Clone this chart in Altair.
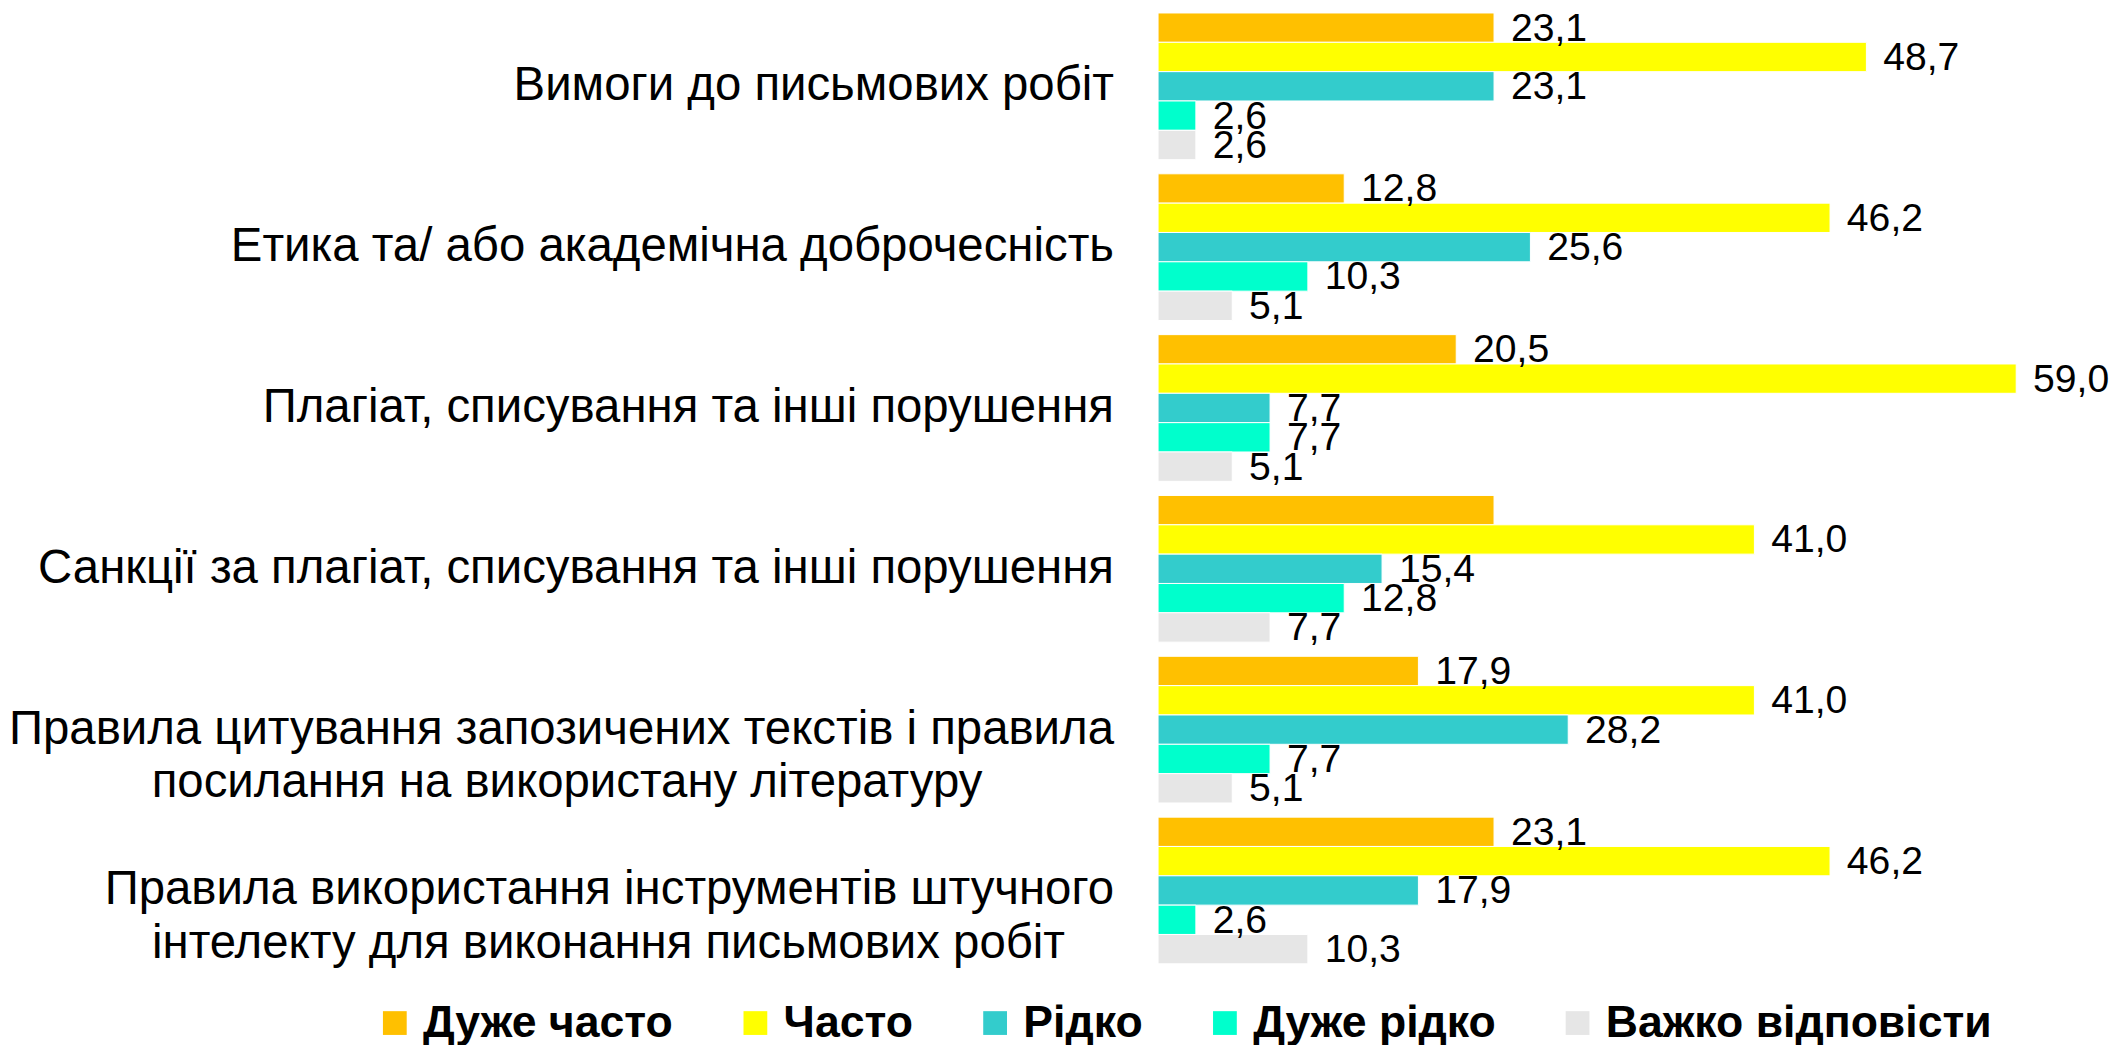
import altair as alt
import pandas as pd

FS = "\u2007"   # figure space, pads the shorter second line so it sits centred
NB = "\u00a0"   # no-break space
TS = "\u2009"   # thin space
END = "\u200b"  # zero-width mark keeps the padding from being trimmed

categories = [
    "Вимоги до письмових робіт",
    "Етика та/ або академічна доброчесність",
    "Плагіат, списування та інші порушення",
    "Санкції за плагіат, списування та інші порушення",
    "Правила цитування запозичених текстів і правила\nпосилання на використану літературу" + FS * 5 + END,
    "Правила використання інструментів штучного\nінтелекту для виконання письмових робіт" + FS + NB + TS + END,
]
series = ["Дуже часто", "Часто", "Рідко", "Дуже рідко", "Важко відповісти"]
colors = ["#FFC000", "#FFFF00", "#33CCCC", "#00FFCC", "#E6E6E6"]

very_often = [23.1, 12.8, 20.5, 23.1, 17.9, 23.1]
often = [48.7, 46.2, 59.0, 41.0, 41.0, 46.2]
rarely = [23.1, 25.6, 7.7, 15.4, 28.2, 17.9]
very_rarely = [2.6, 10.3, 7.7, 12.8, 7.7, 2.6]
hard_to_say = [2.6, 5.1, 5.1, 7.7, 5.1, 10.3]
# the reference shows no value label on this bar (category index, series index)
hidden_label = [(3, 0)]

values = [very_often, often, rarely, very_rarely, hard_to_say]
rows = []
for si, s in enumerate(series):
    for ci, c in enumerate(categories):
        rows.append({
            "category": c,
            "series": s,
            "value": values[si][ci],
            "show": (ci, si) not in hidden_label,
        })
df = pd.DataFrame(rows)

FONT = "Liberation Sans"

y_enc = alt.Y(
    "category:N",
    sort=categories,
    scale=alt.Scale(paddingInner=0.088, paddingOuter=0.025, round=False),
    axis=alt.Axis(
        title=None,
        labelFontSize=47.8,
        labelFont=FONT,
        labelColor="black",
        labelPadding=45,
        ticks=False,
        domain=False,
        labelLimit=0,
        labelExpr="split(datum.label, '\\n')",
        labelLineHeight=54,
    ),
)
yoff = alt.YOffset("series:N", sort=series,
                   scale=alt.Scale(paddingInner=0, paddingOuter=0, round=False))
x_enc = alt.X("value:Q", scale=alt.Scale(domain=[0, 60]), axis=None)

bars = alt.Chart(df).mark_bar(stroke="white", strokeWidth=1).encode(
    x=x_enc,
    y=y_enc,
    yOffset=yoff,
    color=alt.Color(
        "series:N",
        sort=series,
        scale=alt.Scale(domain=series, range=colors),
        legend=alt.Legend(
            title=None,
            orient="none",
            direction="horizontal",
            legendX=-793,
            legendY=1001,
            symbolType="square",
            symbolSize=576,
            symbolStrokeWidth=0,
            labelFont=FONT,
            labelFontSize=45,
            labelFontWeight="bold",
            labelColor="black",
            labelOffset=6,
            columnPadding=60,
            labelLimit=0,
        ),
    ),
)

labels = alt.Chart(df).transform_filter("datum.show").transform_calculate(
    txt="replace(format(datum.value, '.1f'), '.', ',')"
).mark_text(
    align="left", baseline="middle", dx=17, dy=1, fontSize=39.5, font=FONT, color="black"
).encode(
    x=x_enc,
    y=y_enc,
    yOffset=yoff,
    text="txt:N",
)

chart = alt.layer(bars, labels).properties(
    width=881,
    height=968,
    background="white",
    padding={"top": -5, "left": 0, "right": 0, "bottom": 0},
).configure_view(stroke=None)

chart.save("out.html", embed_options={"renderer": "svg", "actions": False})
